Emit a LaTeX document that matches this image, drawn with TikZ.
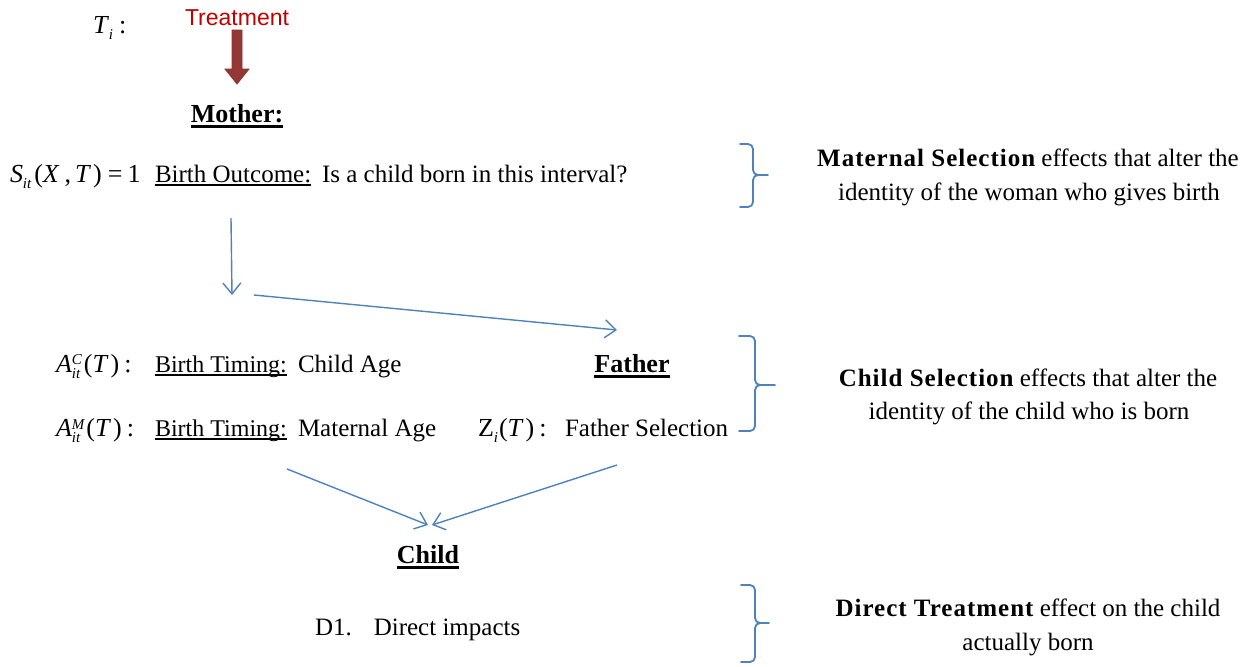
\documentclass[tikz,border=0pt]{standalone}
\usepackage{fontspec}
\setmainfont{Liberation Serif}
\newfontfamily\arialfont{Liberation Sans}
\usetikzlibrary{arrows.meta}
\definecolor{flowblue}{HTML}{4F81BD}
\definecolor{treatred}{HTML}{C00000}
\definecolor{arrowred}{HTML}{953735}
\definecolor{arrowedge}{HTML}{8A3432}

% underline: #1 depth of rule bottom, #2 thickness, #3 text
\newcommand{\myul}[3]{\sbox0{#3}\leavevmode\rlap{\rule[-#1]{\wd0}{#2}}\usebox0}
% stacked sub/superscript: #1 sub, #2 sup
\newcommand{\subsup}[2]{\raisebox{-6pt}{\fontsize{15}{15}\selectfont\itshape\shortstack[l]{#2\\#1}}}
\newcommand{\isub}[1]{\raisebox{-6pt}{\fontsize{15}{15}\selectfont\itshape #1}}
\newcommand{\wideb}[1]{{\bfseries\addfontfeature{LetterSpace=4}#1}}
% curly brace: left x, vertical x, tip x, top y, mid y, bottom y
\newcommand{\mybrace}[6]{%
  \draw[bracestyle] (#1,#4) -- ({#2-5},#4) to[out=0,in=90] (#2,{#4+5}) -- (#2,{#5-5})
     to[out=-90,in=180] ({#2+5},#5) -- (#3,#5);
  \draw[bracestyle] ({#2+5},#5) to[out=180,in=90] (#2,{#5+5}) -- (#2,{#6-5})
     to[out=-90,in=0] ({#2-5},#6) -- (#1,#6);}

\begin{document}
\begin{tikzpicture}[x=1pt,y=-1pt,
  every node/.style={inner sep=0pt, outer sep=0pt},
  txt/.style={font=\fontsize{25}{30}\selectfont, anchor=base west},
  mth/.style={font=\fontsize{26}{30}\selectfont, anchor=base west},
  rtxt/.style={font=\fontsize{25}{30}\selectfont, anchor=base},
  hdr/.style={font=\fontsize{26}{30}\selectfont\bfseries, anchor=base},
  flow/.style={draw=flowblue, line width=1.4pt, -{Straight Barb[length=11pt,width=18pt,line width=1.4pt]}},
  bracestyle/.style={draw=flowblue, line width=1.8pt, line cap=round, line join=round}]
\useasboundingbox (0,0) rectangle (1251,667);

% top
\node[mth] (Ti) at (93,33) {\textit{T}\isub{i}\hspace{6pt}:};
\node[anchor=base, font=\arialfont\fontsize{23}{26}\selectfont, text=treatred] (treat) at (237,25) {Treatment};
\node[hdr] (mother) at (237,122) {\myul{6pt}{3pt}{Mother:}};
\fill[arrowred, draw=arrowedge, line width=0.8pt] (232,30) -- (242,30) -- (242,69) -- (249,69) -- (237,84) -- (225,69) -- (232,69) -- cycle;

% birth outcome row
\node[mth] (S) at (10,182) {\textit{S}\isub{it}\hspace{3pt}(\textit{X}\hspace{5pt},\hspace{4pt}\textit{T}\hspace{2pt})\hspace{6pt}=\hspace{5pt}1};
\node[txt] (bo) at (155,182) {\myul{4pt}{2pt}{Birth Outcome:}};
\node[txt] (q) at (322,182) {Is a child born in this interval?};

% timing rows
\node[mth] (AC) at (56,372) {\textit{A}\subsup{it}{C}\hspace{2pt}(\textit{T}\hspace{2pt})\hspace{5pt}:};
\node[txt, font=\fontsize{24}{30}\selectfont] (bt1) at (155,372) {\myul{4pt}{2pt}{Birth Timing:}};
\node[txt] (ca) at (298,372) {Child Age};
\node[mth] (AM) at (56,436) {\textit{A}\subsup{it}{M}\hspace{2pt}(\textit{T}\hspace{2pt})\hspace{5pt}:};
\node[txt, font=\fontsize{24}{30}\selectfont] (bt2) at (155,436) {\myul{4pt}{2pt}{Birth Timing:}};
\node[txt] (ma) at (298,436) {Maternal Age};

% father
\node[hdr] (father) at (632,372) {\myul{6pt}{3pt}{Father}};
\node[mth] (Z) at (478,436) {Z\isub{i}\hspace{1pt}(\textit{T}\hspace{2pt})\hspace{5pt}:};
\node[txt] (fs) at (565,436) {Father Selection};

% child
\node[hdr] (child) at (428,563) {\myul{6pt}{3pt}{Child}};
\node[txt] (d1) at (315,635) {D1.\hspace{22pt}Direct impacts};

% right-hand texts
\node[rtxt] (ms1) at (1028,166) {\wideb{Maternal Selection} effects that alter the};
\node[rtxt] (ms2) at (1029,200) {identity of the woman who gives birth};
\node[rtxt] (cs1) at (1028,386) {\wideb{Child Selection} effects that alter the};
\node[rtxt] (cs2) at (1029,419) {identity of the child who is born};
\node[rtxt] (dt1) at (1028,616) {\wideb{Direct Treatment} effect on the child};
\node[rtxt] (dt2) at (1028,650) {actually born};

% braces
\mybrace{740}{753}{768}{144}{175}{207}
\mybrace{739}{755}{775}{336}{385}{431}
\mybrace{741}{755}{769}{585}{623}{662}

% flow arrows
\coordinate (a1s) at (231,218);
\coordinate (a1e) at (232,295);
\coordinate (a2s) at (254,295);
\coordinate (a2e) at (617,330);
\coordinate (a3s) at (287,469);
\coordinate (a3e) at (428,525);
\coordinate (a4s) at (617,465);
\coordinate (a4e) at (432,525);
\draw[flow] (a1s) -- (a1e);
\draw[flow] (a2s) -- (a2e);
\draw[flow] (a3s) -- (a3e);
\draw[flow] (a4s) -- (a4e);
\end{tikzpicture}
\end{document}
